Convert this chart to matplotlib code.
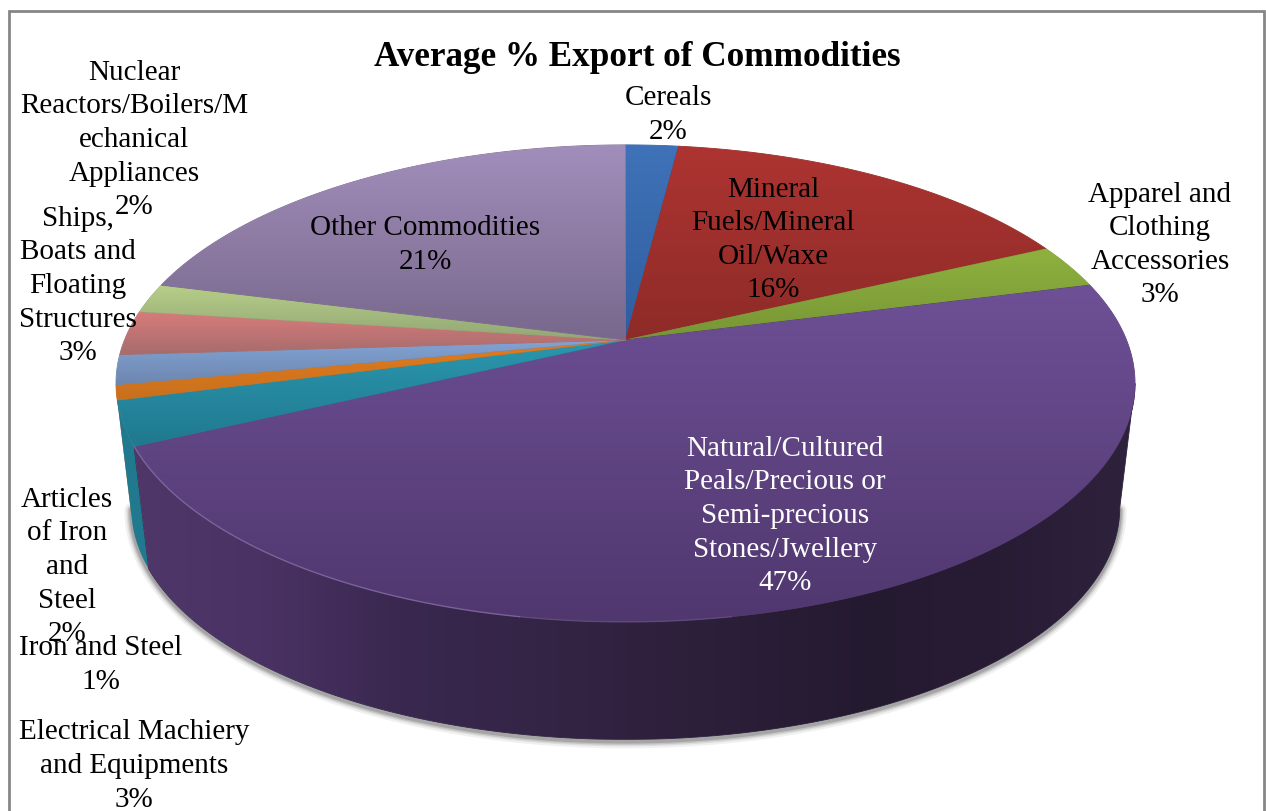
import numpy as np
from matplotlib import pyplot as plt
from matplotlib import colors as mcolors
from matplotlib.path import Path
from matplotlib.patches import PathPatch, Rectangle

plt.rcParams['font.family'] = ['Liberation Serif', 'DejaVu Serif']

titulo = "Average % Export of Commodities"

categorias = ["Cereals",
              "Mineral\nFuels/Mineral\nOil/Waxe",
              "Apparel and\nClothing\nAccessories",
              "Natural/Cultured\nPeals/Precious or\nSemi-precious\nStones/Jwellery",
              "Electrical Machiery\nand Equipments",
              "Iron and Steel",
              "Articles\nof Iron\nand\nSteel",
              "Ships,\nBoats and\nFloating\nStructures",
              "Nuclear\nReactors/Boilers/M\nechanical\nAppliances",
              "Other Commodities"]
valores = [2, 16, 3, 47, 3, 1, 2, 3, 2, 21]

# claro arriba, oscuro abajo en cada rebanada
claro = ["#3f72b8", "#ad3431", "#8fb23e", "#6e5096", "#2a97ae",
         "#e37c1c", "#83a3d4", "#d87b7b", "#b7cf88", "#a28ebb"]
oscuro = ["#2f5e9f", "#8e2b28", "#779536", "#50376e", "#20798f",
          "#c8701e", "#6c86ae", "#a66c6c", "#92a675", "#78688c"]

pos_etiquetas = [(668, 115), (773, 240), (1160, 245), (785, 516), (134, 766),
                 (101, 665), (67, 567), (78, 286), (134, 140), (425, 245)]
color_etiquetas = ["black", "black", "black", "white", "black",
                   "black", "black", "black", "black", "black"]

# pared lateral: tono segun x
pared_x = [135, 260, 400, 626, 870, 1000, 1120]
pared_c = ["#4f3769", "#4a3364", "#3a2850", "#30223f", "#241a30", "#281c35", "#2e213c"]

# proyeccion en perspectiva del disco
cx, cy = 625.5, 340
a, b, k = 501, 230.6, 0.182
alto, escala = 126, 0.97


def proyectar(phi, abajo=False):
    u = np.sin(phi)
    v = -np.cos(phi)
    d = 1 - k * v
    s = escala if abajo else 1
    desp = alto if abajo else 0
    return cx + s * a * u / d, cy + desp + s * b * v / d


def degradado(ax, xs, ys, paradas, vertical=True, posiciones=None, z=2):
    verts = np.column_stack([xs, ys])
    verts = np.vstack([verts, verts[0]])
    codigos = [Path.MOVETO] + [Path.LINETO] * (len(xs) - 1) + [Path.CLOSEPOLY]
    camino = Path(verts, codigos)
    x0, x1, y0, y1 = xs.min(), xs.max(), ys.min(), ys.max()
    rgb = np.array([mcolors.to_rgb(c) for c in paradas])
    if vertical:
        t = np.linspace(0, 1, 256)
        p = np.linspace(0, 1, len(paradas))
        img = np.stack([np.interp(t, p, rgb[:, i]) for i in range(3)], axis=1)[:, None, :]
    else:
        t = np.linspace(x0, x1, 512)
        img = np.stack([np.interp(t, posiciones, rgb[:, i]) for i in range(3)], axis=1)[None, :, :]
    borde = PathPatch(camino, fc='none', ec=paradas[len(paradas) // 2], lw=0.6, zorder=z)
    ax.add_patch(borde)
    im = ax.imshow(img, extent=(x0, x1, y1, y0), aspect='auto', zorder=z,
                   interpolation='bilinear')
    im.set_clip_path(PathPatch(camino, transform=ax.transData))


fig = plt.figure(figsize=(12.66, 8.11), dpi=100)
ax = fig.add_axes([0, 0, 1, 1])

ax.add_patch(Rectangle((9, 11), 1255, 830, fc='white', ec='#868686', lw=2, zorder=0))

limites = np.cumsum([0] + valores) / sum(valores) * 2 * np.pi

# angulos donde la pared deja de verse
tan_der = np.arccos(-k)
tan_izq = 2 * np.pi - tan_der

# sombra difusa bajo el borde inferior
phi_f = np.linspace(tan_der, tan_izq, 300)
sx, sy = proyectar(phi_f, True)
for ancho, alfa in zip([10, 7, 5, 3], [0.07, 0.10, 0.14, 0.20]):
    ax.plot(sx, sy + 2, color='#303030', lw=ancho, alpha=alfa, zorder=1,
            solid_capstyle='round')

# paredes: primero las que quedan mas lejos del frente
orden = sorted(range(len(valores)),
               key=lambda i: -abs((limites[i] + limites[i + 1]) / 2 - np.pi))
for i in orden:
    ini = max(limites[i], tan_der)
    fin = min(limites[i + 1], tan_izq)
    if fin <= ini:
        continue
    phi = np.linspace(ini, fin, 200)
    xa, ya = proyectar(phi)
    xb, yb = proyectar(phi[::-1], True)
    xs = np.concatenate([xa, xb])
    ys = np.concatenate([ya, yb])
    if i == 3:
        degradado(ax, xs, ys, pared_c, vertical=False, posiciones=pared_x)
    else:
        ax.fill(xs, ys, color=oscuro[i], zorder=2, lw=0)

# cara superior
for i in range(len(valores)):
    phi = np.linspace(limites[i], limites[i + 1], max(int(valores[i] * 8), 12))
    xa, ya = proyectar(phi)
    xs = np.concatenate([[cx], xa])
    ys = np.concatenate([[cy], ya])
    degradado(ax, xs, ys, [claro[i], oscuro[i]], z=3)

# brillo fino en el borde frontal, se apaga hacia la derecha
phi_b = np.linspace(np.radians(190), limites[4], 200)
xb, yb = proyectar(phi_b)
ax.plot(xb, yb, color='#8a75a8', lw=1, alpha=0.7, zorder=4)
phi_b = np.linspace(np.radians(170), np.radians(190), 40)
xb, yb = proyectar(phi_b)
ax.plot(xb, yb, color='#8a75a8', lw=1, alpha=0.3, zorder=4)

for nombre, valor, pos, color in zip(categorias, valores, pos_etiquetas, color_etiquetas):
    ax.text(pos[0], pos[1], nombre + "\n" + str(valor) + "%", ha='center', va='center',
            ma='center', fontsize=21, color=color, linespacing=1.38, zorder=6)

ax.text(637, 57, titulo, ha='center', va='center', fontsize=25.3, fontweight='bold', zorder=6)

ax.set_xlim(0, 1266)
ax.set_ylim(811, 0)
ax.axis('off')
fig.savefig('out.png', dpi=100)
